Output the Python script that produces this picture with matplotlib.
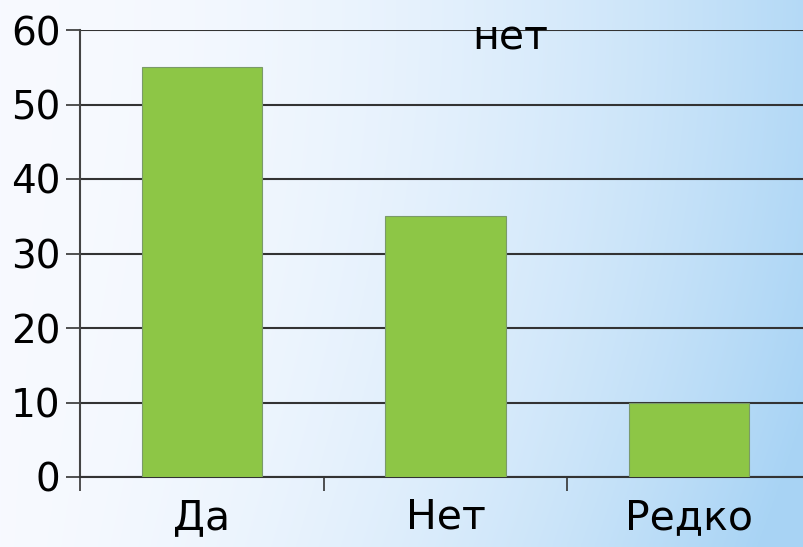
import numpy as np
import matplotlib.pyplot as plt

# Data
categories = ['Да', 'Нет', 'Редко']
values = [55, 35, 10]
yticks = [0, 10, 20, 30, 40, 50, 60]

fig = plt.figure(figsize=(8.04, 5.47), dpi=100)

# Background gradient (white left -> light blue right)
bg = fig.add_axes([0, 0, 1, 1], zorder=0)
gx, gy = np.meshgrid(np.linspace(0, 1, 400), np.linspace(0, 1, 300))
t = np.clip(0.85 * gx ** 2.0 + 0.25 * gy ** 2 * gx, 0, 1)
white = np.array([0.97, 0.98, 1.0])
blue = np.array([0.66, 0.83, 0.96])
img = white[None, None, :] * (1 - t[..., None]) + blue[None, None, :] * t[..., None]
bg.imshow(img, aspect='auto', extent=[0, 1, 0, 1], origin='upper')
bg.axis('off')

ax = fig.add_axes([80 / 804, 1 - 477 / 547, 731 / 804, 447 / 547], zorder=1)
ax.patch.set_alpha(0)
x = np.arange(len(categories))
ax.bar(x, values, width=0.495, color='#8dc646', edgecolor='#7a9a6a', linewidth=0.8, zorder=3)

ax.set_xlim(-0.5, 2.5)
ax.set_ylim(0, 60)
ax.set_yticks(yticks)
ax.set_xticks([-0.5, 0.5, 1.5])
ax.set_xticks(x, minor=True)
ax.set_xticklabels([])
ax.set_xticklabels(categories, minor=True)
ax.tick_params(axis='x', which='minor', length=0, labelsize=29.5, pad=15)
ax.tick_params(axis='x', which='major', length=10, width=1.2, color='#333333')
ax.tick_params(axis='y', length=10, width=1.2, color='#333333', labelsize=28, pad=4)
ax.yaxis.grid(True, color='#333333', linewidth=1.5, zorder=1)
ax.set_axisbelow(True)
for s in ['top', 'right']:
    ax.spines[s].set_visible(False)
ax.spines['left'].set_color('#444444')
ax.spines['left'].set_linewidth(1.5)
ax.spines['bottom'].set_color('#333333')
ax.spines['bottom'].set_linewidth(1.5)

fig.text(510 / 804, 1 - 38 / 547, 'нет', fontsize=29.5, ha='center', va='center', zorder=5)

fig.savefig('out.png', dpi=100)
